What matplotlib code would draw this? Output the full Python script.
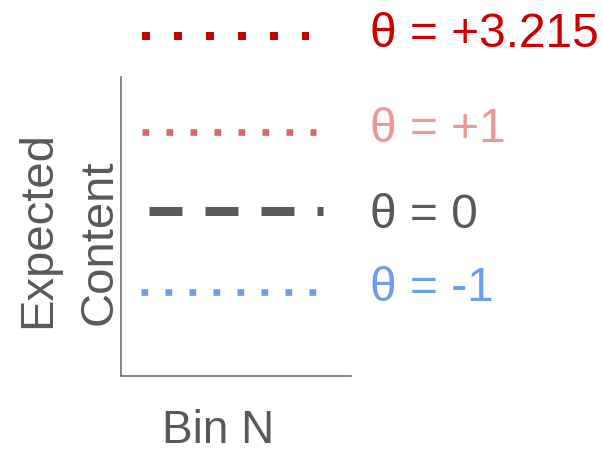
import matplotlib
matplotlib.use("Agg")
import matplotlib.pyplot as plt

plt.rcParams['font.family'] = ['Liberation Sans', 'DejaVu Sans']
plt.rcParams['lines.scale_dashes'] = False

W, H = 603, 452

# schematic series (levels in axes-pixel units of the sketch)
labels = ["θ = +3.215", "θ = +1", "θ = 0", "θ = -1"]
levels = [339.7, 244.0, 165.3, 84.0]
x_start = [20.7, 20.7, 28.0, 20.0]
x_end = [188.3, 195.3, 202.0, 195.0]
x_label = "Bin N"
y_label = ["Expected", "Content"]

line_colors = ["#cc0000", "#e06666", "#595959", "#6d9eeb"]
text_colors = ["#cc0000", "#ea9999", "#595959", "#6d9eeb"]
px2pt = 0.72
line_widths = [8 * px2pt, 6.7 * px2pt, 9 * px2pt, 6.7 * px2pt]
dashes = [(0, (8 * px2pt, 24 * px2pt)),
          (0, (6.7 * px2pt, 17.3 * px2pt)),
          (0, (33 * px2pt, 23 * px2pt)),
          (0, (6.7 * px2pt, 17.3 * px2pt))]
text_baselines = [46.7, 141.7, 228.3, 301.0]

fig = plt.figure(figsize=(W / 100, H / 100), dpi=100)

def fx(x):
    return x / W

def fy(y):
    return (H - y) / H

ax_l, ax_t, ax_r, ax_b = 121, 78, 351, 377
ax = fig.add_axes([fx(ax_l), fy(ax_b), (ax_r - ax_l) / W, (ax_b - ax_t) / H])
ax.set_xlim(0, ax_r - ax_l)
ax.set_ylim(0, ax_b - ax_t)
for s in ["top", "right"]:
    ax.spines[s].set_visible(False)
for s in ["left", "bottom"]:
    ax.spines[s].set_color("#666666")
    ax.spines[s].set_linewidth(1.1)
ax.set_xticks([])
ax.set_yticks([])

for i in range(len(labels)):
    ax.plot([x_start[i], x_end[i]], [levels[i], levels[i]],
            color=line_colors[i], lw=line_widths[i], linestyle=dashes[i],
            dash_capstyle="butt", solid_capstyle="butt", clip_on=False)
    fig.text(fx(370), fy(text_baselines[i]), labels[i], color=text_colors[i],
             fontsize=34.5, ha="left", va="baseline")

fig.text(fx(161.5), fy(442.7), x_label, color="#595959", fontsize=33,
         ha="left", va="baseline")
fig.text(fx(50.5), fy(328.5), y_label[0], color="#595959", fontsize=34,
         ha="left", va="baseline", rotation=90, rotation_mode="anchor")
fig.text(fx(112), fy(325), y_label[1], color="#595959", fontsize=34,
         ha="left", va="baseline", rotation=90, rotation_mode="anchor")

fig.savefig("out.png", dpi=100)
